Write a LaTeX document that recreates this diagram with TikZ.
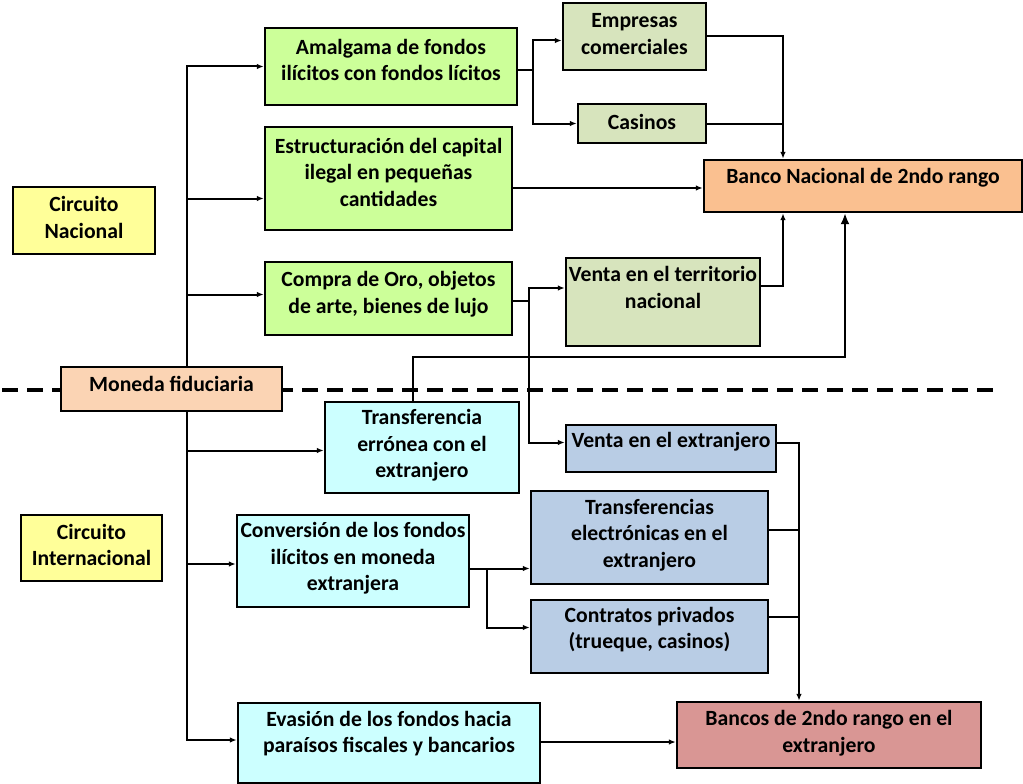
\documentclass[tikz,border=0pt]{standalone}
\usepackage{fontspec}
\setmainfont{Carlito}
\usetikzlibrary{arrows.meta}

\definecolor{verde}{HTML}{CCFF99}
\definecolor{oliva}{HTML}{D7E4BD}
\definecolor{naranja}{HTML}{FAC090}
\definecolor{durazno}{HTML}{FBD4B4}
\definecolor{amarillo}{HTML}{FFFF99}
\definecolor{cian}{HTML}{CCFFFF}
\definecolor{azulg}{HTML}{B9CDE5}
\definecolor{rosa}{HTML}{D99694}

\tikzset{
  caja/.style={draw, line width=2.4pt, inner sep=0pt},
  txt/.style={font=\fontsize{21.7}{26.5}\selectfont\bfseries, align=center},
  linea/.style={line width=2pt},
  flecha/.style={linea, -{Latex[length=7pt,width=5.5pt]}},
  flechag/.style={linea, -{Latex[length=11pt,width=9pt]}},
}

\begin{document}
\begin{tikzpicture}[x=1pt, y=-1pt]
    \useasboundingbox (0,0) rectangle (1023,784);

    % Separacion entre circuitos
    \draw[line width=3.5pt, dash pattern=on 16pt off 9pt] (2,390) -- (995,390);

    % Circuitos y origen
    \node[caja, fill=amarillo, minimum width=142pt, minimum height=67pt,
          label={[txt, yshift=3pt]center:{Circuito\\Nacional}}] (circnac) at (84,220.5) {};
    \node[caja, fill=amarillo, minimum width=141pt, minimum height=66pt,
          label={[txt, yshift=3pt]center:{Circuito\\Internacional}}] (circint) at (91.5,548) {};
    \node[caja, fill=durazno, minimum width=221pt, minimum height=44pt,
          label={[txt, yshift=5.5pt]center:{Moneda fiduciaria}}] (moneda) at (171.5,389) {};

    % Circuito nacional
    \node[caja, fill=verde, minimum width=252pt, minimum height=77pt,
          label={[txt, yshift=6.5pt]center:{Amalgama de fondos\\il\'icitos con fondos l\'icitos}}] (amal) at (391,66.5) {};
    \node[caja, fill=verde, minimum width=247pt, minimum height=103pt,
          label={[txt, yshift=6.5pt]center:{Estructuraci\'on del capital\\ilegal en peque\~nas\\cantidades}}] (estr) at (388.5,178.5) {};
    \node[caja, fill=verde, minimum width=247pt, minimum height=73pt,
          label={[txt, yshift=4.5pt]center:{Compra de Oro, objetos\\de arte, bienes de lujo}}] (compra) at (388.5,298.5) {};
    \node[caja, fill=oliva, minimum width=143pt, minimum height=67pt,
          label={[txt, yshift=2.5pt]center:{Empresas\\comerciales}}] (empresas) at (634.5,36.5) {};
    \node[caja, fill=oliva, minimum width=128pt, minimum height=39pt,
          label={[txt, yshift=1.5pt]center:{Casinos}}] (casinos) at (642,123.5) {};
    \node[caja, fill=naranja, minimum width=318pt, minimum height=52pt,
          label={[txt, yshift=8.5pt]center:{Banco Nacional de 2ndo rango}}] (bnac) at (863,186) {};
    \node[caja, fill=oliva, minimum width=194pt, minimum height=88pt,
          label={[txt, yshift=14.5pt]center:{Venta en el territorio\\nacional}}] (ventat) at (663,302) {};

    % Circuito internacional
    \node[caja, fill=cian, minimum width=194pt, minimum height=91pt,
          label={[txt, yshift=2pt]center:{Transferencia\\err\'onea con el\\extranjero}}] (transf) at (422,447.5) {};
    \node[caja, fill=cian, minimum width=232pt, minimum height=92pt,
          label={[txt, yshift=2.5pt]center:{Conversi\'on de los fondos\\il\'icitos en moneda\\extranjera}}] (conv) at (353,561) {};
    \node[caja, fill=cian, minimum width=302pt, minimum height=80pt,
          label={[txt, yshift=9.5pt]center:{Evasi\'on de los fondos hacia\\para\'isos fiscales y bancarios}}] (evas) at (389,743) {};
    \node[caja, fill=azulg, minimum width=210pt, minimum height=47pt,
          label={[txt, yshift=6.5pt]center:{Venta en el extranjero}}] (ventae) at (671,448.5) {};
    \node[caja, fill=azulg, minimum width=237pt, minimum height=93pt,
          label={[txt, yshift=2.5pt]center:{Transferencias\\electr\'onicas en el\\extranjero}}] (telec) at (649.5,537.5) {};
    \node[caja, fill=azulg, minimum width=237pt, minimum height=73pt,
          label={[txt, yshift=7pt]center:{Contratos privados\\(trueque, casinos)}}] (contr) at (649.5,636.5) {};
    \node[caja, fill=rosa, minimum width=304pt, minimum height=66pt,
          label={[txt, yshift=2pt]center:{Bancos de 2ndo rango en el\\extranjero}}] (bext) at (829,735) {};

    % Puntos de reparto
    \coordinate (tr) at (187,0);
    \coordinate (colector) at ([xshift=-80pt]bnac.north);
    \coordinate (colext) at ([xshift=-30pt]bext.north);

    % Tronco desde la moneda
    \draw[flecha] (moneda.north -| tr) |- (amal.west);
    \draw[flecha] ([yshift=-20pt]estr.west -| tr) -- ([yshift=-20pt]estr.west);
    \draw[flecha] ([yshift=4pt]compra.west -| tr) -- ([yshift=4pt]compra.west);
    \draw[flecha] (moneda.south -| tr) |- ([yshift=3pt]evas.west);
    \draw[flecha] ([yshift=-3pt]transf.west -| tr) -- ([yshift=-3pt]transf.west);
    \draw[flecha] ([yshift=-3pt]conv.west -| tr) -- ([yshift=-3pt]conv.west);

    % Hacia el banco nacional
    \draw[flecha] ([yshift=-4pt]amal.east) -- ++(15,0) |- ([yshift=-4pt]empresas.west);
    \draw[flecha] ([yshift=-4pt]amal.east) -- ++(15,0) |- (casinos.west);
    \draw[flecha] (empresas.east) -| (colector);
    \draw[linea] (casinos.east) -- (casinos.east -| colector);
    \draw[flecha] ([yshift=-2pt]bnac.west -| estr.east) -- ([yshift=-2pt]bnac.west);
    \draw[flecha] ([yshift=-2pt]compra.east) -- ++(16,0) |- ([yshift=14pt]ventat.west);
    \draw[flecha] ([yshift=-2pt]compra.east) -- ++(16,0) |- ([yshift=6pt]ventae.west);
    \draw[flecha] ([yshift=16pt]ventat.east) -| (colector |- bnac.south);
    \draw[flechag] ([xshift=-9pt]transf.north) -- ++(0,-44) -| ([xshift=-18pt]bnac.south);

    % Hacia los bancos del extranjero
    \draw[flecha] ([yshift=-8pt]conv.east) -- ++(17,0) |- ([yshift=-31pt]telec.west);
    \draw[flecha] ([yshift=-8pt]conv.east) -- ++(17,0) |- ([yshift=9pt]contr.west);
    \draw[flecha] ([yshift=6pt]ventae.east) -| (colext);
    \draw[linea] ([yshift=8pt]telec.east) -- ([yshift=8pt]telec.east -| colext);
    \draw[linea] ([yshift=20pt]contr.east) -- ([yshift=20pt]contr.east -| colext);
    \draw[flecha] ([yshift=-7pt]bext.west -| evas.east) -- ([yshift=-7pt]bext.west);

\end{tikzpicture}
\end{document}
